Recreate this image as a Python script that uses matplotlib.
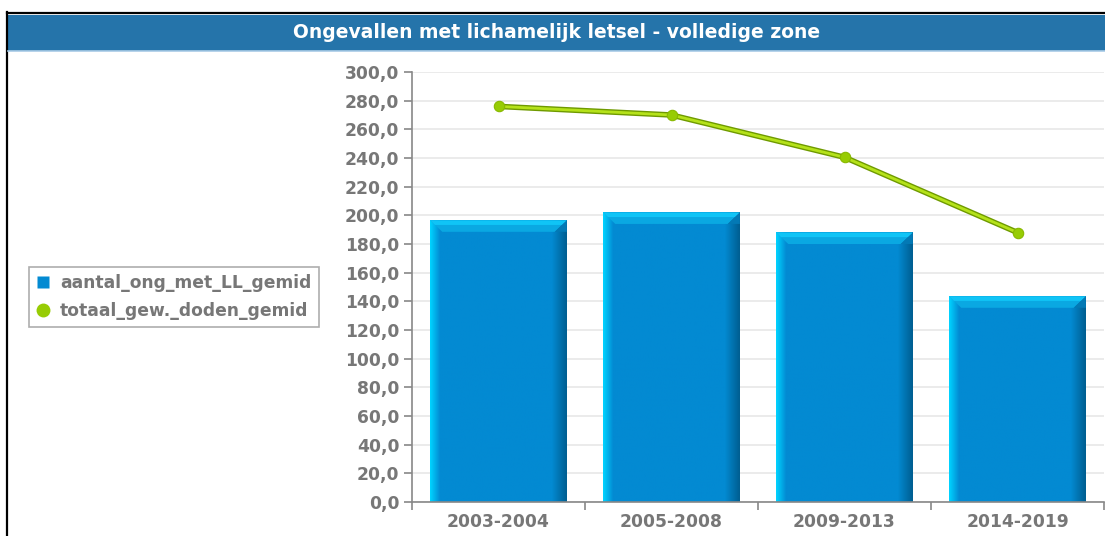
import numpy as np
import matplotlib.pyplot as plt
from matplotlib.patches import Rectangle, Polygon
from matplotlib.lines import Line2D
from matplotlib.colors import to_rgb

# data
categories = ['2003-2004', '2005-2008', '2009-2013', '2014-2019']
ongevallen = [196.5, 202.0, 188.0, 143.5]
doden = [276.0, 270.0, 240.5, 188.0]
title = 'Ongevallen met lichamelijk letsel - volledige zone'
legend_labels = ['aantal_ong_met_LL_gemid', 'totaal_gew._doden_gemid']

BAR_MAIN = '#038ad2'
BAR_LIGHT = '#00d2ff'
BAR_DARK = '#005f92'
LINE_COL = '#97cc04'
TXT = '#777777'

fig = plt.figure(figsize=(11.05, 5.36), dpi=100)
W, H = 1105, 536

# outer border and title bar
fig.add_artist(Line2D([7 / W, 7 / W], [0, 1 - 12 / H], color='black', lw=1.6, transform=fig.transFigure))
fig.add_artist(Line2D([7 / W, 1], [1 - 13 / H, 1 - 13 / H], color='black', lw=1.6, transform=fig.transFigure))
fig.add_artist(Rectangle((8 / W, 1 - 51 / H), 1 - 8 / W, 36 / H, transform=fig.transFigure,
                         facecolor='#2574aa', edgecolor='none'))
fig.add_artist(Line2D([8 / W, 1], [1 - 51 / H, 1 - 51 / H], color='#a9cbe6', lw=1.2, transform=fig.transFigure))
fig.text(0.5 + 4 / W, 1 - 33 / H, title, color='white', fontsize=13.5, ha='center', va='center',
         family='DejaVu Sans', fontweight='bold')

ax = fig.add_axes([412 / W, 1 - 502 / H, (1104 - 412) / W, (502 - 72) / H])
x = np.arange(len(categories))
ax.set_ylim(0, 300)

# horizontal shading profile of a bar
n = 140
prof = np.zeros((1, n, 3))
c_main, c_light, c_dark = map(np.array, map(to_rgb, (BAR_MAIN, BAR_LIGHT, BAR_DARK)))
for i in range(n):
    if i < 10:
        t = i / 10
        col = c_light * (1 - t) + c_main * t
    elif i > n - 16:
        t = (i - (n - 16)) / 15
        col = c_main * (1 - t) + c_dark * t
    else:
        col = c_main
    prof[0, i] = col

bw = 0.79
bev_x = 0.07
bev_y = 8.0
for xi, v in zip(x, ongevallen):
    l, r = xi - bw / 2, xi + bw / 2
    ax.imshow(prof, extent=(l, r, 0, v), aspect='auto', zorder=2, interpolation='bilinear')
    # top bevel
    ax.add_patch(Polygon([(l, v), (r, v), (r - bev_x, v - bev_y), (l + bev_x, v - bev_y)],
                         closed=True, facecolor='#0aa8e2', edgecolor='none', zorder=3))
    ax.add_patch(Polygon([(l, v), (r, v), (r - bev_x * 0.4, v - bev_y * 0.4), (l + bev_x * 0.4, v - bev_y * 0.4)],
                         closed=True, facecolor='#10c4f6', edgecolor='none', zorder=3))
    # right bevel
    ax.add_patch(Polygon([(r, v), (r - bev_x, v - bev_y), (r - bev_x * 0.3, v - bev_y), (r, v - bev_y)],
                         closed=True, facecolor='#0379b5', edgecolor='none', zorder=3))
ax.set_xlim(-0.5, len(categories) - 0.5)

ax.plot(x, doden, color='#6f9a00', lw=4.0, zorder=4, solid_capstyle='round')
ax.plot(x, doden, color='#b5e21a', lw=2.0, zorder=5, marker='o', markersize=7.5,
        markerfacecolor=LINE_COL, markeredgecolor='#88b800', markeredgewidth=0.8)

ax.set_yticks(np.arange(0, 301, 20))
ax.set_yticklabels([f'{v:.1f}'.replace('.', ',') for v in np.arange(0, 301, 20)])
ax.set_xticks(x)
ax.set_xticklabels(categories)
ax.set_xticks(np.arange(-0.5, len(categories)), minor=True)
ax.tick_params(axis='x', which='major', length=0, pad=8, labelsize=12.3, labelcolor=TXT)
ax.tick_params(axis='x', which='minor', length=6, color='#888888', width=1.2)
ax.tick_params(axis='y', length=6, color='#888888', width=1.2, labelsize=12.3, labelcolor=TXT, pad=3)
for lab in ax.get_xticklabels() + ax.get_yticklabels():
    lab.set_fontweight('bold')

ax.grid(axis='y', color='#e8e8e8', lw=1.2, zorder=0)
ax.set_axisbelow(True)
for s in ['top', 'right']:
    ax.spines[s].set_visible(False)
for s in ['left', 'bottom']:
    ax.spines[s].set_color('#888888')
    ax.spines[s].set_linewidth(1.2)

handles = [
    Line2D([], [], marker='s', color='none', markerfacecolor=BAR_MAIN, markeredgecolor='none', markersize=9),
    Line2D([], [], marker='o', color='none', markerfacecolor=LINE_COL, markeredgecolor='none', markersize=10),
]
leg = fig.legend(handles, legend_labels, loc='center left', bbox_to_anchor=(20 / W, 1 - 297 / H),
                 frameon=True, fancybox=False, edgecolor='#999999', handlelength=0.8,
                 handletextpad=0.6, borderpad=0.45, labelspacing=0.55,
                 prop={'weight': 'bold', 'size': 12.3})
leg.get_frame().set_linewidth(1.2)
for t in leg.get_texts():
    t.set_color(TXT)

fig.savefig('out.png', dpi=100)
